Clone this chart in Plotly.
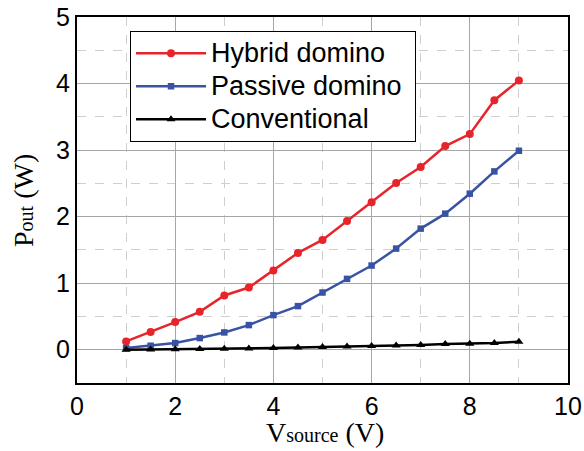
import plotly.graph_objects as go

# Source voltage sweep (V)
v_source = [1, 1.5, 2, 2.5, 3, 3.5, 4, 4.5, 5, 5.5, 6, 6.5, 7, 7.5, 8, 8.5, 9]

# Output power (W) for each topology
p_hybrid = [0.125, 0.265, 0.415, 0.57, 0.815, 0.935, 1.19, 1.455, 1.65, 1.935,
            2.215, 2.505, 2.745, 3.06, 3.24, 3.75, 4.045]
p_passive = [0.025, 0.06, 0.10, 0.175, 0.26, 0.37, 0.52, 0.655, 0.86, 1.065,
             1.265, 1.52, 1.82, 2.045, 2.345, 2.68, 2.99]
p_conventional = [0.0, 0.003, 0.006, 0.01, 0.015, 0.02, 0.025, 0.035, 0.04, 0.05,
                  0.055, 0.065, 0.07, 0.085, 0.09, 0.10, 0.12]

series_names = ["Hybrid domino", "Passive domino", "Conventional"]

# axis titles: subscripts are smaller but sit on the same baseline
sub = '<span style="font-size:20px">{}</span>'
x_title = "V" + sub.format("source") + " (V)"
y_title = "P" + sub.format("out") + " (W)"

styles = [
    ("#e8242b", "circle", 8),
    ("#3953a4", "square", 6.5),
    ("#000000", "triangle-up", 8),
]

# legend rows are packed tighter than the text size would normally allow
legend_text = '<span style="font-size:27px">{}</span>'

fig = go.Figure()
for name, ys, (color, symbol, msize) in zip(series_names,
                                             [p_hybrid, p_passive, p_conventional],
                                             styles):
    label = name + ("&nbsp;" if name == "Passive domino" else "")
    fig.add_trace(go.Scatter(
        x=v_source, y=ys, name=legend_text.format(label), mode="lines+markers",
        line=dict(color=color, width=2.5),
        marker=dict(color=color, symbol=symbol, size=msize),
    ))

grid_major = "#a6a6a6"
grid_minor = "#cfcfcf"
sans = "Liberation Sans, Arial, sans-serif"
serif = "Liberation Serif, Times New Roman, serif"

fig.update_layout(
    width=584, height=451,
    margin=dict(l=77, r=16, t=17, b=68),
    paper_bgcolor="white", plot_bgcolor="white",
    font=dict(family=sans, color="black", size=22),
    legend=dict(
        x=0.108, y=0.962, xanchor="left", yanchor="top",
        bordercolor="black", borderwidth=1, bgcolor="white",
        font=dict(size=23, family=sans),
        itemwidth=70, tracegroupgap=0,
    ),
    xaxis=dict(
        range=[0, 10], dtick=2, tick0=0, automargin=False,
        showgrid=True, gridcolor=grid_major, gridwidth=1,
        minor=dict(dtick=1, tick0=0, showgrid=True, gridcolor=grid_minor, griddash="dash", gridwidth=1),
        showline=True, linecolor="black", linewidth=2, mirror=True,
        ticks="", zeroline=False,
        tickfont=dict(size=25),
    ),
    yaxis=dict(
        range=[-0.5, 5], dtick=1, tick0=0, automargin=False,
        showgrid=True, gridcolor=grid_major, gridwidth=1,
        minor=dict(dtick=0.5, tick0=0, showgrid=True, gridcolor=grid_minor, griddash="dash", gridwidth=1),
        showline=True, linecolor="black", linewidth=2, mirror=True,
        ticks="", zeroline=False,
        tickfont=dict(size=25),
    ),
    annotations=[
        dict(text=x_title, xref="paper", yref="paper", x=0.505, y=-0.136,
             xanchor="center", yanchor="middle", showarrow=False,
             font=dict(family=serif, size=28)),
        dict(text=y_title, xref="paper", yref="paper", x=-0.11, y=0.5,
             xanchor="center", yanchor="middle", textangle=-90, showarrow=False,
             font=dict(family=serif, size=28)),
    ],
)

fig.write_html("out.html")
